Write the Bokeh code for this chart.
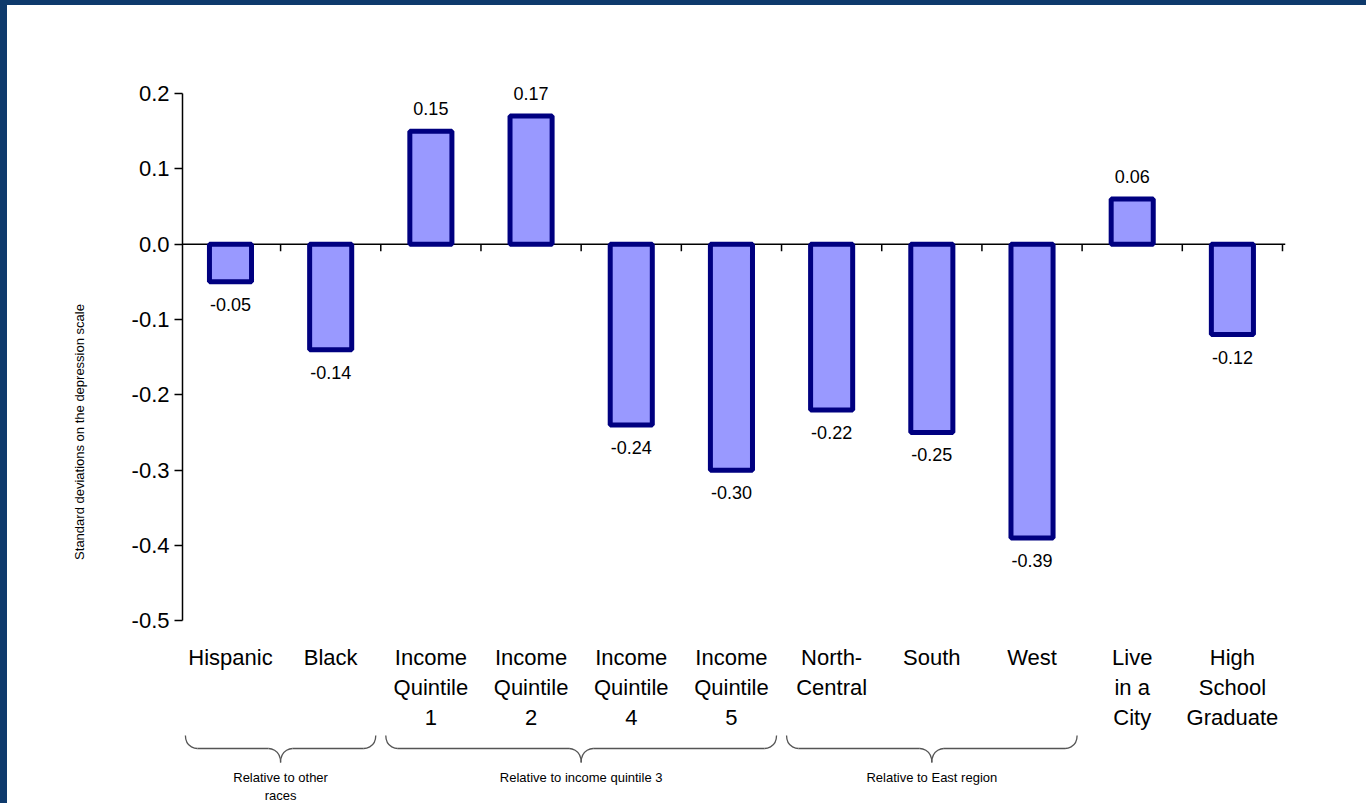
from bokeh.plotting import figure
from bokeh.models import ColumnDataSource, FixedTicker, CustomJSTickFormatter
from bokeh.core.properties import value
from bokeh.embed import file_html
from bokeh.resources import INLINE

# data
labels = [["Hispanic"], ["Black"], ["Income", "Quintile", "1"], ["Income", "Quintile", "2"],
          ["Income", "Quintile", "4"], ["Income", "Quintile", "5"], ["North-", "Central"],
          ["South"], ["West"], ["Live", "in a", "City"], ["High", "School", "Graduate"]]
values = [-0.05, -0.14, 0.15, 0.17, -0.24, -0.30, -0.22, -0.25, -0.39, 0.06, -0.12]
group_names = [["Relative to other", "races"], ["Relative to income quintile 3"], ["Relative to East region"]]
group_start = [0, 2, 6]
group_end = [1, 5, 8]

FONT = value("Liberation Sans")
PX = 1 / 753.3  # data units per pixel vertically

x = list(range(len(values)))
p = figure(width=1359, height=798, output_backend="svg", toolbar_location=None,
           x_range=(-0.479, 10.53), y_range=(-0.7425, 0.2 + 33 * PX),
           min_border_left=175, min_border_top=55, min_border_right=81, min_border_bottom=0,
           background_fill_color="white", border_fill_color="white", outline_line_color=None)
p.xaxis.visible = False
p.xgrid.visible = False
p.ygrid.visible = False

ya = p.yaxis[0]
ya.bounds = (-0.5, 0.2)
ya.ticker = FixedTicker(ticks=[-0.5, -0.4, -0.3, -0.2, -0.1, 0.0, 0.1, 0.2])
ya.formatter = CustomJSTickFormatter(code="return tick.toFixed(1)")
ya.minor_tick_line_color = None
ya.major_tick_in = 0
ya.major_tick_out = 8
ya.axis_line_width = 1.5
ya.major_tick_line_width = 1.5
ya.major_label_text_font = "Liberation Sans"
ya.major_label_text_font_size = "22px"
ya.major_label_text_color = "black"
ya.axis_label = "Standard deviations on the depression scale"
ya.axis_label_text_font = "Liberation Sans"
ya.axis_label_text_font_size = "13px"
ya.axis_label_text_font_style = "normal"
ya.axis_label_text_color = "black"
ya.axis_label_standoff = 42

# zero line with small ticks between categories
p.segment(x0=[-0.479], y0=[0], x1=[10.53], y1=[0], line_color="black", line_width=1.5)
tx = [i + 0.5 for i in range(len(values))]
p.segment(x0=tx, y0=[0] * len(tx), x1=tx, y1=[-7 * PX] * len(tx), line_color="black", line_width=1.5)

src = ColumnDataSource(dict(x=x, top=values, bottom=[0] * len(values)))
p.vbar(x="x", top="top", bottom="bottom", width=0.42, source=src,
       fill_color="#9999ff", line_color="#000080", line_width=5)

# value labels
vy = [v + 16 * PX if v > 0 else v - 16 * PX for v in values]
vb = ["bottom" if v > 0 else "top" for v in values]
p.text(x=x, y=vy, text=["%.2f" % v for v in values], text_baseline=vb, text_align="center",
       text_font=FONT, text_font_size="18px", text_color="black")

# category labels
lx, ly, lt = [], [], []
for i, lines in enumerate(labels):
    for j, t in enumerate(lines):
        lx.append(i)
        ly.append(0.2 - (657 - 93 + 30 * j) * PX)
        lt.append(t)
p.text(x=lx, y=ly, text=lt, text_align="center", text_baseline="middle",
       text_font=FONT, text_font_size="22px", text_color="black")

# braces and group labels
yt = 0.2 - (735 - 93) * PX
ym = 0.2 - (748 - 93) * PX
yb = 0.2 - (762 - 93) * PX
d = 0.12
for s, e, names in zip(group_start, group_end, group_names):
    xa, xb = s - 0.45, e + 0.45
    m = (xa + xb) / 2
    p.bezier(x0=[xa, m, m, xb], y0=[yt, yb, yb, yt], x1=[xa + d, m - d, m + d, xb - d], y1=[ym] * 4,
             cx0=[xa, m, m, xb], cy0=[ym, ym, ym, ym], cx1=[xa + d, m - d, m + d, xb - d], cy1=[ym] * 4,
             line_color="#555555", line_width=1.3)
    p.segment(x0=[xa + d, m + d], y0=[ym, ym], x1=[m - d, xb - d], y1=[ym, ym],
              line_color="#555555", line_width=1.3)
    for j, t in enumerate(names):
        p.text(x=[m], y=[0.2 - (777 - 93 + 18 * j) * PX], text=[t], text_align="center",
               text_baseline="middle", text_font=FONT,
               text_font_size="13px", text_color="black")

html = file_html(p, INLINE).replace(
    "<body>",
    '<body style="background:white;margin:0;border-top:5px solid #0e3a6c;border-left:7px solid #0e3a6c">')
open("out.html", "w").write(html)
